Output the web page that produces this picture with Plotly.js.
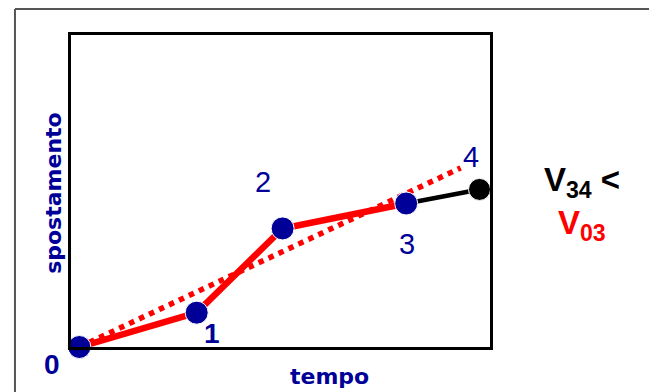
<!DOCTYPE html>
<html>
<head>
<meta charset="utf-8">
<script src="https://cdn.plot.ly/plotly-3.0.1.min.js"></script>
<style>
    html, body { margin: 0; padding: 0; background: #fff; }
    #graph { width: 649px; height: 392px; }
</style>
</head>
<body>
<div id="graph"></div>
<script>
// positions, in arbitrary units (axis 0..10)
const pointLabels = ['0', '1', '2', '3', '4'];
const pointTime = [0.2, 3.0, 5.05, 8.0, 9.75];
const pointPosition = [0.0, 1.1, 3.8, 4.6, 5.05];

// dotted average-velocity line (0 -> 3, extended)
const averageTime = [0.2, 9.3];
const averagePosition = [0.0, 5.74];

const navy = '#000099';
const red = '#ff0000';

// label offsets from each point, in pixels
const labelShift = [[-27, -17], [15, -21], [-20, 46], [1, -41], [-9, 32]];
const labelBold = [true, true, false, false, false];

function drawChart() {
    const averageLine = {
        x: averageTime,
        y: averagePosition,
        mode: 'lines',
        type: 'scatter',
        line: {color: red, width: 5.5, dash: 'dot'},
        hoverinfo: 'skip',
        cliponaxis: false
    };

    const firstSegments = {
        x: pointTime.slice(0, 4),
        y: pointPosition.slice(0, 4),
        mode: 'lines',
        type: 'scatter',
        line: {color: red, width: 6.5},
        cliponaxis: false
    };

    const lastSegment = {
        x: pointTime.slice(3),
        y: pointPosition.slice(3),
        mode: 'lines',
        type: 'scatter',
        line: {color: '#000000', width: 4.5},
        cliponaxis: false
    };

    const points = {
        x: pointTime,
        y: pointPosition,
        mode: 'markers',
        type: 'scatter',
        marker: {
            size: pointLabels.map((l, i) => i === 4 ? 22 : 23),
            color: pointLabels.map((l, i) => i === 4 ? '#000000' : navy),
            opacity: 1
        },
        cliponaxis: false
    };

    const annotations = pointLabels.map((label, i) => ({
        x: pointTime[i],
        y: pointPosition[i],
        xref: 'x',
        yref: 'y',
        xanchor: 'center',
        yanchor: 'middle',
        text: labelBold[i] ? '<b>' + label + '</b>' : label,
        showarrow: false,
        xshift: labelShift[i][0],
        yshift: labelShift[i][1],
        font: {family: 'Liberation Sans, Arial, sans-serif', size: labelBold[i] ? 28 : 29, color: navy}
    }));

    annotations.push(
        {
            xref: 'paper', yref: 'paper', x: 0.616, y: -0.096,
            xanchor: 'center', yanchor: 'middle',
            text: '<b>tempo</b>', showarrow: false,
            font: {family: 'DejaVu Sans, Verdana, sans-serif', size: 22, color: navy}
        },
        {
            xref: 'paper', yref: 'paper', x: -0.0406, y: 0.494,
            xanchor: 'center', yanchor: 'middle',
            text: '<b>spostamento</b>', showarrow: false, textangle: -90,
            font: {family: 'DejaVu Sans, Verdana, sans-serif', size: 22, color: navy}
        },
        {
            xref: 'paper', yref: 'paper', x: 1.2196, y: 0.53,
            xanchor: 'center', yanchor: 'middle',
            text: '<b>V<sub>34</sub> &lt;</b>', showarrow: false,
            font: {family: 'Liberation Sans, Arial, sans-serif', size: 33, color: '#000000'}
        },
        {
            xref: 'paper', yref: 'paper', x: 1.2196, y: 0.392,
            xanchor: 'center', yanchor: 'middle',
            text: '<b>V<sub>03</sub></b>', showarrow: false,
            font: {family: 'Liberation Sans, Arial, sans-serif', size: 33, color: red}
        }
    );

    const frameColor = '#555555';
    const shapes = [
        {type: 'line', xref: 'paper', yref: 'paper', x0: -0.1337, x1: -0.1337, y0: -0.2, y1: 1.0833,
            line: {color: frameColor, width: 2}},
        {type: 'line', xref: 'paper', yref: 'paper', x0: -0.1337, x1: 1.45, y0: 1.0833, y1: 1.0833,
            line: {color: frameColor, width: 2}}
    ];

    const axisStyle = {
        range: [0, 10],
        showgrid: false,
        zeroline: false,
        showticklabels: false,
        ticks: '',
        showline: true,
        mirror: true,
        linecolor: '#000000',
        linewidth: 3,
        fixedrange: true
    };

    const layout = {
        width: 649,
        height: 392,
        margin: {l: 71, r: 159, t: 35, b: 45},
        paper_bgcolor: '#ffffff',
        plot_bgcolor: '#ffffff',
        xaxis: axisStyle,
        yaxis: axisStyle,
        showlegend: false,
        annotations: annotations,
        shapes: shapes
    };

    const config = {
        displayModeBar: false,
        staticPlot: true
    };

    Plotly.newPlot('graph', [averageLine, firstSegments, lastSegment, points], layout, config);
}

drawChart();
</script>
</body>
</html>
